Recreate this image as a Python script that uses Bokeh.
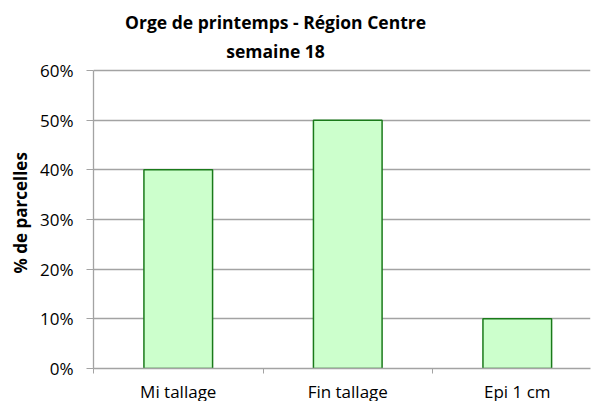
from bokeh.plotting import figure
from bokeh.models import Range1d, FixedTicker, NumeralTickFormatter, Label, Title
from bokeh.embed import file_html
from bokeh.resources import INLINE

categories = ["Mi tallage", "Fin tallage", "Epi 1 cm"]
values = [0.40, 0.50, 0.10]
y_ticks = [0.0, 0.1, 0.2, 0.3, 0.4, 0.5, 0.6]
title_lines = ["Orge de printemps - Région Centre", "semaine 18"]
y_label = "% de parcelles"

FONT = "Open Sans"
GRID = "#a3a3a3"
TICK_FS = "17px"

xs = [i + 0.5 for i in range(len(categories))]

# frame: 497 px wide, 368 px tall; y range top extended so the title sits inside the frame
p = figure(output_backend="svg", toolbar_location=None,
           frame_width=497, frame_height=368,
           x_range=Range1d(0, 2.932), y_range=Range1d(0, 0.7409),
           min_border_left=93, min_border_right=2, min_border_top=0, min_border_bottom=33)
p.outline_line_color = None
p.background_fill_color = "white"
p.border_fill_color = "white"

p.vbar(x=xs, top=values, width=0.405, bottom=0,
       fill_color="#ccffcc", line_color="#1a7a1a", line_width=1.5)

# x axis
p.xaxis.ticker = FixedTicker(ticks=xs, minor_ticks=[0, 1, 2, 3])
p.xaxis.major_label_overrides = {x: c for x, c in zip(xs, categories)}
p.xaxis.major_tick_line_color = None
p.xaxis.major_tick_out = 0
p.xaxis.major_tick_in = 0
p.xaxis.minor_tick_out = 5
p.xaxis.minor_tick_in = 0
p.xaxis.minor_tick_line_color = GRID
p.xaxis.axis_line_color = GRID
p.xaxis.axis_line_width = 1.3
p.xaxis.major_label_text_font = FONT
p.xaxis.major_label_text_font_size = TICK_FS
p.xaxis.major_label_text_color = "#000000"
p.xaxis.major_label_standoff = 6

# y axis
p.yaxis.bounds = (0, 0.6)
p.yaxis.ticker = FixedTicker(ticks=y_ticks, minor_ticks=[])
p.yaxis.formatter = NumeralTickFormatter(format="0%")
p.yaxis.major_tick_out = 7
p.yaxis.major_tick_in = 0
p.yaxis.major_tick_line_color = GRID
p.yaxis.axis_line_color = GRID
p.yaxis.axis_line_width = 1.3
p.yaxis.major_label_text_font = FONT
p.yaxis.major_label_text_font_size = TICK_FS
p.yaxis.major_label_text_color = "#000000"
p.yaxis.major_label_standoff = 13

# y axis title, positioned along the 0..60% span
p.add_layout(Title(text=y_label, align="left", offset=95, standoff=12,
                   text_font=FONT, text_font_style="bold", text_font_size="17px",
                   text_color="#000000"), "left")

p.xgrid.grid_line_color = None
p.ygrid.ticker = FixedTicker(ticks=y_ticks)
p.ygrid.grid_line_color = GRID
p.ygrid.grid_line_width = 1.3

# chart title lines
for txt, yy in zip(title_lines, [0.6977, 0.6383]):
    p.add_layout(Label(x=1.074, y=yy, text=txt, text_align="center",
                       text_baseline="middle", text_font=FONT,
                       text_font_style="bold", text_font_size="17.5px",
                       text_color="#000000"))

open("out.html", "w").write(file_html(p, INLINE))
